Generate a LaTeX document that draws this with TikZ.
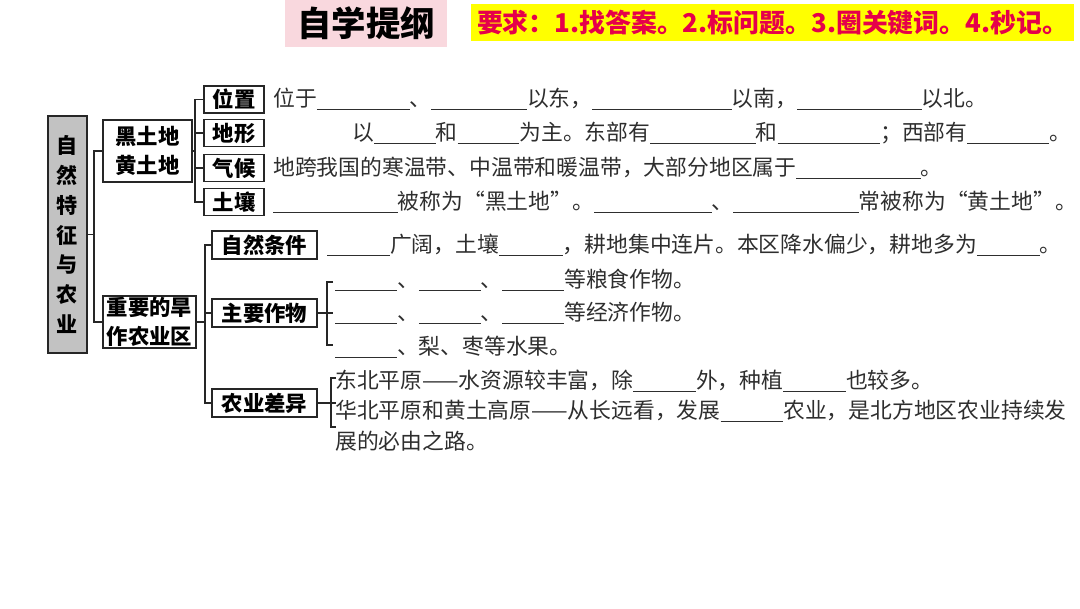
\documentclass[tikz,border=0pt]{standalone}
\usepackage{fontspec}
\setmainfont{Noto Sans CJK SC}
\usepackage{xcolor}
\definecolor{titlepink}{HTML}{F9D8DE}
\definecolor{askyellow}{HTML}{FFFF00}
\definecolor{askred}{HTML}{E6004A}
\definecolor{topicgray}{HTML}{C2C2C2}
\definecolor{bodyink}{HTML}{2E2E2E}
\usetikzlibrary{positioning,calc}
\newdimen\pxu \pxu=0.70866pt
\newcommand\blank[1]{\rule[-0.16em]{#1\pxu}{0.6pt}}

\begin{document}
\begin{tikzpicture}[
  x=0.025cm, y=-0.025cm,
  topic/.style={rectangle, draw=black!85, line width=1.4pt, fill=topicgray,
                minimum width=40\pxu, minimum height=237\pxu, inner sep=0pt,
                align=center, font=\fontsize{15}{21.3}\selectfont\bfseries},
  kbox/.style={rectangle, draw=black!85, line width=1.3pt, fill=white,
               inner sep=0pt, align=center, font=\fontsize{15.2}{21}\selectfont\bfseries},
  link/.style={line width=1.2pt, black!85},
  txt/.style={anchor=base west, inner sep=0pt, text=bodyink,
              font=\fontsize{15.5}{18}\selectfont},
]
\useasboundingbox (0,0) rectangle (1080,608);

% ---------- heading
\node[fill=titlepink, minimum width=162\pxu, minimum height=47\pxu, inner sep=0pt,
      font=\fontsize{24.5}{26}\selectfont\bfseries] (head) at (366,23.5) {自学提纲};
\node[fill=askyellow, minimum width=605\pxu, minimum height=37\pxu, inner sep=0pt,
      text=askred, font=\fontsize{18.4}{20}\selectfont\bfseries] (ask) at (772.5,22.5)
  {要求：1.找答案。2.标问题。3.圈关键词。4.秒记。};

% ---------- left tree
\node[topic] (nat) at (67.5,234.5) {自\\然\\特\\征\\与\\农\\业};
\node[kbox, minimum width=89\pxu, minimum height=62\pxu] (soil) at (147.5,151) {黑土地\\黄土地};
\node[kbox, minimum width=93\pxu, minimum height=52\pxu] (dry) at (149.5,322) {重要的旱\\作农业区};

\coordinate (j1) at (94,0);
\draw[link] (nat.east) -- (nat.east -| j1);
\draw[link] (soil.west) -- (soil.west -| j1) -- (dry.west -| j1) -- (dry.west);

% ---------- black / yellow soil
\foreach \k/\t/\y in {pos/位置/99.5, land/地形/133, clim/气候/168, earth/土壤/202}
  \node[kbox, minimum width=60\pxu, minimum height=27\pxu] (\k) at (234,\y) {\t};
\coordinate (j2) at (195,0);
\draw[link] (soil.east) -- (soil.east -| j2);
\draw[link] (pos.west) -- (pos.west -| j2) -- (earth.west -| j2) -- (earth.west);
\draw[link] (land.west) -- (land.west -| j2);
\draw[link] (clim.west) -- (clim.west -| j2);

\node[txt] (tpos) at (273,106.5)
  {位于\blank{93}、\blank{96}以东，\blank{140}以南，\blank{125}以北。};
\node[txt] (tland) at (352,140)
  {以\blank{62}和\blank{62}为主。东部有\blank{106}和\blank{103}；西部有\blank{82}。};
\node[txt] (tclim) at (273,175)
  {地跨我国的寒温带、中温带和暖温带，大部分地区属于\blank{125}。};
\node[txt] (tearth) at (273,209)
  {\blank{125}被称为“黑土地”。\blank{118}、\blank{126}常被称为“黄土地”。};

% ---------- dry farming region
\foreach \k/\t/\y in {cond/自然条件/245, crop/主要作物/313, diff/农业差异/403}
  \node[kbox, minimum width=105\pxu, minimum height=28\pxu] (\k) at (264.5,\y) {\t};
\coordinate (j3) at (205,0);
\draw[link] (dry.east) -- (dry.east -| j3);
\draw[link] (cond.west) -- (cond.west -| j3) -- (diff.west -| j3) -- (diff.west);
\draw[link] (crop.west) -- (crop.west -| j3);

\node[txt] (tcond) at (327,252)
  {\blank{63}广阔，土壤\blank{64}，耕地集中连片。本区降水偏少，耕地多为\blank{63}。};

% crops bracket
\coordinate (c1t) at (333,282);
\coordinate (c1b) at (333,345);
\draw[link] (c1t) -- (c1t -| 327,0) -- (c1b -| 327,0) -- (c1b);
\draw[link] (crop.east) -- (crop.east -| c1t);
\node[txt] (tgrain) at (335,287) {\blank{62}、\blank{62}、\blank{62}等粮食作物。};
\node[txt] (tcash) at (335,320) {\blank{62}、\blank{62}、\blank{62}等经济作物。};
\node[txt] (tfruit) at (335,354) {\blank{62}、梨、枣等水果。};

% difference bracket
\coordinate (c2t) at (336,378);
\coordinate (c2b) at (336,427);
\draw[link] (c2t) -- (c2t -| 331,0) -- (c2b -| 331,0) -- (c2b);
\draw[link] (diff.east) -- (diff.east -| c2t);
\node[txt] (tne) at (335,388) {东北平原——水资源较丰富，除\blank{63}外，种植\blank{63}也较多。};
\node[txt] (tnc) at (335,418) {华北平原和黄土高原——从长远看，发展\blank{63}农业，是北方地区农业持续发};
\node[txt] (tnc2) at (335,449) {展的必由之路。};
\end{tikzpicture}
\end{document}
